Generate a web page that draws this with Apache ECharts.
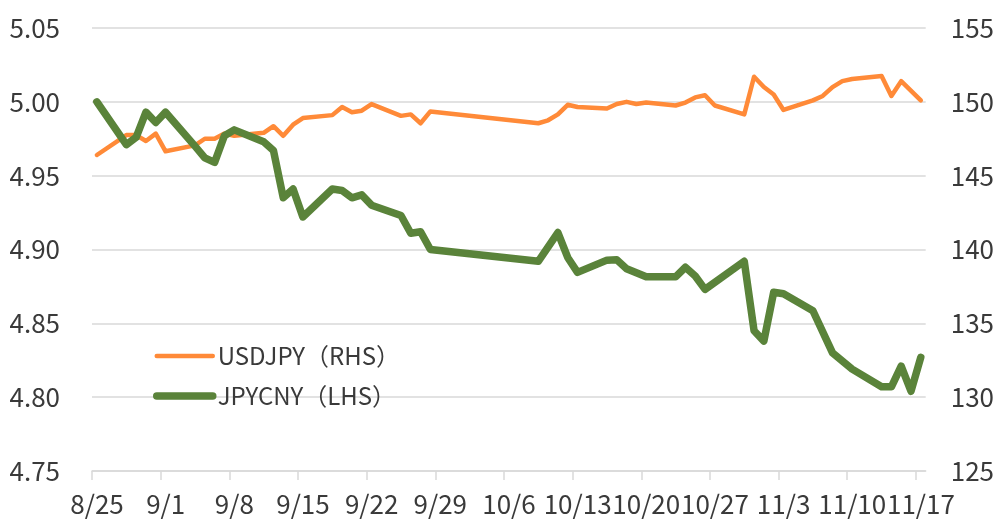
<!DOCTYPE html>
<html>
<head>
<meta charset="utf-8">
<script src="https://cdn.jsdelivr.net/npm/echarts@6/dist/echarts.min.js"></script>
<style>
html, body { margin: 0; padding: 0; background: #fff; }
#chart { width: 997px; height: 519px; }
</style>
</head>
<body>
<div id="chart"></div>
<script>
// values (only the dates where the line bends)
var usdjpyDates = ['8/25', '8/28', '8/29', '8/30', '8/31', '9/1', '9/4', '9/5', '9/6', '9/7', '9/8',
  '9/11', '9/12', '9/13', '9/14', '9/15', '9/18', '9/19', '9/20', '9/21', '9/22', '9/25', '9/26',
  '9/27', '9/28', '10/9', '10/10', '10/11', '10/12', '10/13', '10/16', '10/17', '10/18', '10/19',
  '10/20', '10/23', '10/24', '10/25', '10/26', '10/27', '10/30', '10/31', '11/1', '11/2', '11/3',
  '11/6', '11/7', '11/8', '11/9', '11/10', '11/13', '11/14', '11/15', '11/17'];
var usdjpyValues = [146.4, 147.75, 147.75, 147.35, 147.85, 146.65, 147.05, 147.5, 147.5, 147.85, 147.7,
  147.9, 148.35, 147.7, 148.45, 148.9, 149.1, 149.65, 149.3, 149.4, 149.85, 149.05, 149.15,
  148.55, 149.35, 148.55, 148.75, 149.15, 149.8, 149.65, 149.55, 149.85, 150.0, 149.85,
  149.95, 149.75, 149.95, 150.3, 150.45, 149.75, 149.15, 151.7, 151.0, 150.5, 149.45,
  150.1, 150.4, 151.0, 151.4, 151.55, 151.75, 150.4, 151.4, 150.1];

var jpycnyDates = ['8/25', '8/28', '8/29', '8/30', '8/31', '9/1', '9/4', '9/5', '9/6', '9/7', '9/8',
  '9/11', '9/12', '9/13', '9/14', '9/15', '9/18', '9/19', '9/20', '9/21', '9/22', '9/25', '9/26',
  '9/27', '9/28', '10/9', '10/11', '10/12', '10/13', '10/16', '10/17', '10/18', '10/20', '10/23',
  '10/24', '10/25', '10/26', '10/30', '10/31', '11/1', '11/2', '11/3', '11/6', '11/8', '11/10',
  '11/13', '11/14', '11/15', '11/16', '11/17'];
var jpycnyValues = [5.000, 4.971, 4.976, 4.993, 4.986, 4.993, 4.970, 4.962, 4.959, 4.977, 4.981,
  4.973, 4.967, 4.935, 4.941, 4.922, 4.941, 4.940, 4.935, 4.937, 4.930, 4.923, 4.911,
  4.912, 4.900, 4.892, 4.9115, 4.8946, 4.8845, 4.8928, 4.893, 4.887, 4.8815, 4.8815,
  4.888, 4.882, 4.873, 4.892, 4.845, 4.838, 4.871, 4.870, 4.8585, 4.830, 4.819,
  4.807, 4.807, 4.821, 4.804, 4.827];

var axisStart = new Date(2025, 7, 25);
var axisDays = 85;
var weekTicks = [0, 7, 14, 21, 28, 35, 42, 49, 56, 63, 70, 77, 84];

var chart = echarts.init(document.getElementById('chart'));

var font = '"Noto Sans CJK JP", "Noto Sans", sans-serif';
var textColor = '#3a3a3a';
var gridColor = '#d9d9d9';
var orange = '#ff8a38';
var green = '#5a833a';

function dayIndex(s) {
  var p = s.split('/');
  var d = new Date(2025, +p[0] - 1, +p[1]);
  return Math.round((d - axisStart) / 86400000);
}

// points sit in the middle of their day, like a date axis in a spreadsheet
function toPoints(dates, values) {
  return dates.map(function (s, i) {
    return [dayIndex(s) + 0.5, values[i]];
  });
}

function dayLabel(v) {
  var d = new Date(axisStart.getTime());
  d.setDate(d.getDate() + Math.round(v));
  return (d.getMonth() + 1) + '/' + d.getDate();
}

var option = {
  animation: false,
  grid: {
    left: 92,
    right: 71,
    top: 28,
    bottom: 48
  },
  legend: {
    orient: 'vertical',
    left: 153,
    top: 344,
    padding: 0,
    itemWidth: 56,
    itemHeight: 14,
    itemGap: 16,
    itemStyle: { opacity: 0 },
    textStyle: {
      fontFamily: font,
      fontSize: 24,
      color: textColor
    },
    data: [
      { name: 'USDJPY（RHS）', lineStyle: { color: orange, width: 4.5, cap: 'round' } },
      { name: 'JPYCNY（LHS）', lineStyle: { color: green, width: 7.5, cap: 'round' } }
    ]
  },
  xAxis: {
    type: 'value',
    min: 0,
    max: axisDays,
    interval: 7,
    axisLine: {
      lineStyle: { color: gridColor, width: 1.5 }
    },
    axisTick: {
      show: true,
      length: 9,
      customValues: weekTicks,
      lineStyle: { color: gridColor, width: 1.5 }
    },
    axisLabel: {
      customValues: weekTicks,
      formatter: dayLabel,
      margin: 20,
      padding: [0, 0, 0, 10],
      fontFamily: font,
      fontSize: 26,
      color: textColor
    },
    splitLine: { show: false }
  },
  yAxis: [
    {
      type: 'value',
      min: 4.75,
      max: 5.05,
      interval: 0.05,
      axisLine: { show: false },
      axisTick: { show: false },
      axisLabel: {
        formatter: function (v) { return v.toFixed(2); },
        margin: 32,
        fontFamily: font,
        fontSize: 26,
        color: textColor
      },
      splitLine: {
        lineStyle: { color: gridColor, width: 1.5 }
      }
    },
    {
      type: 'value',
      min: 125,
      max: 155,
      interval: 5,
      axisLine: { show: false },
      axisTick: { show: false },
      axisLabel: {
        margin: 25,
        fontFamily: font,
        fontSize: 26,
        color: textColor
      },
      splitLine: { show: false }
    }
  ],
  series: [
    {
      name: 'USDJPY（RHS）',
      type: 'line',
      yAxisIndex: 1,
      symbol: 'none',
      data: toPoints(usdjpyDates, usdjpyValues),
      itemStyle: { color: orange },
      lineStyle: { color: orange, width: 4.5, cap: 'round', join: 'round' }
    },
    {
      name: 'JPYCNY（LHS）',
      type: 'line',
      yAxisIndex: 0,
      symbol: 'none',
      data: toPoints(jpycnyDates, jpycnyValues),
      itemStyle: { color: green },
      lineStyle: { color: green, width: 7.5, cap: 'round', join: 'round' }
    }
  ]
};

chart.setOption(option);
</script>
</body>
</html>
